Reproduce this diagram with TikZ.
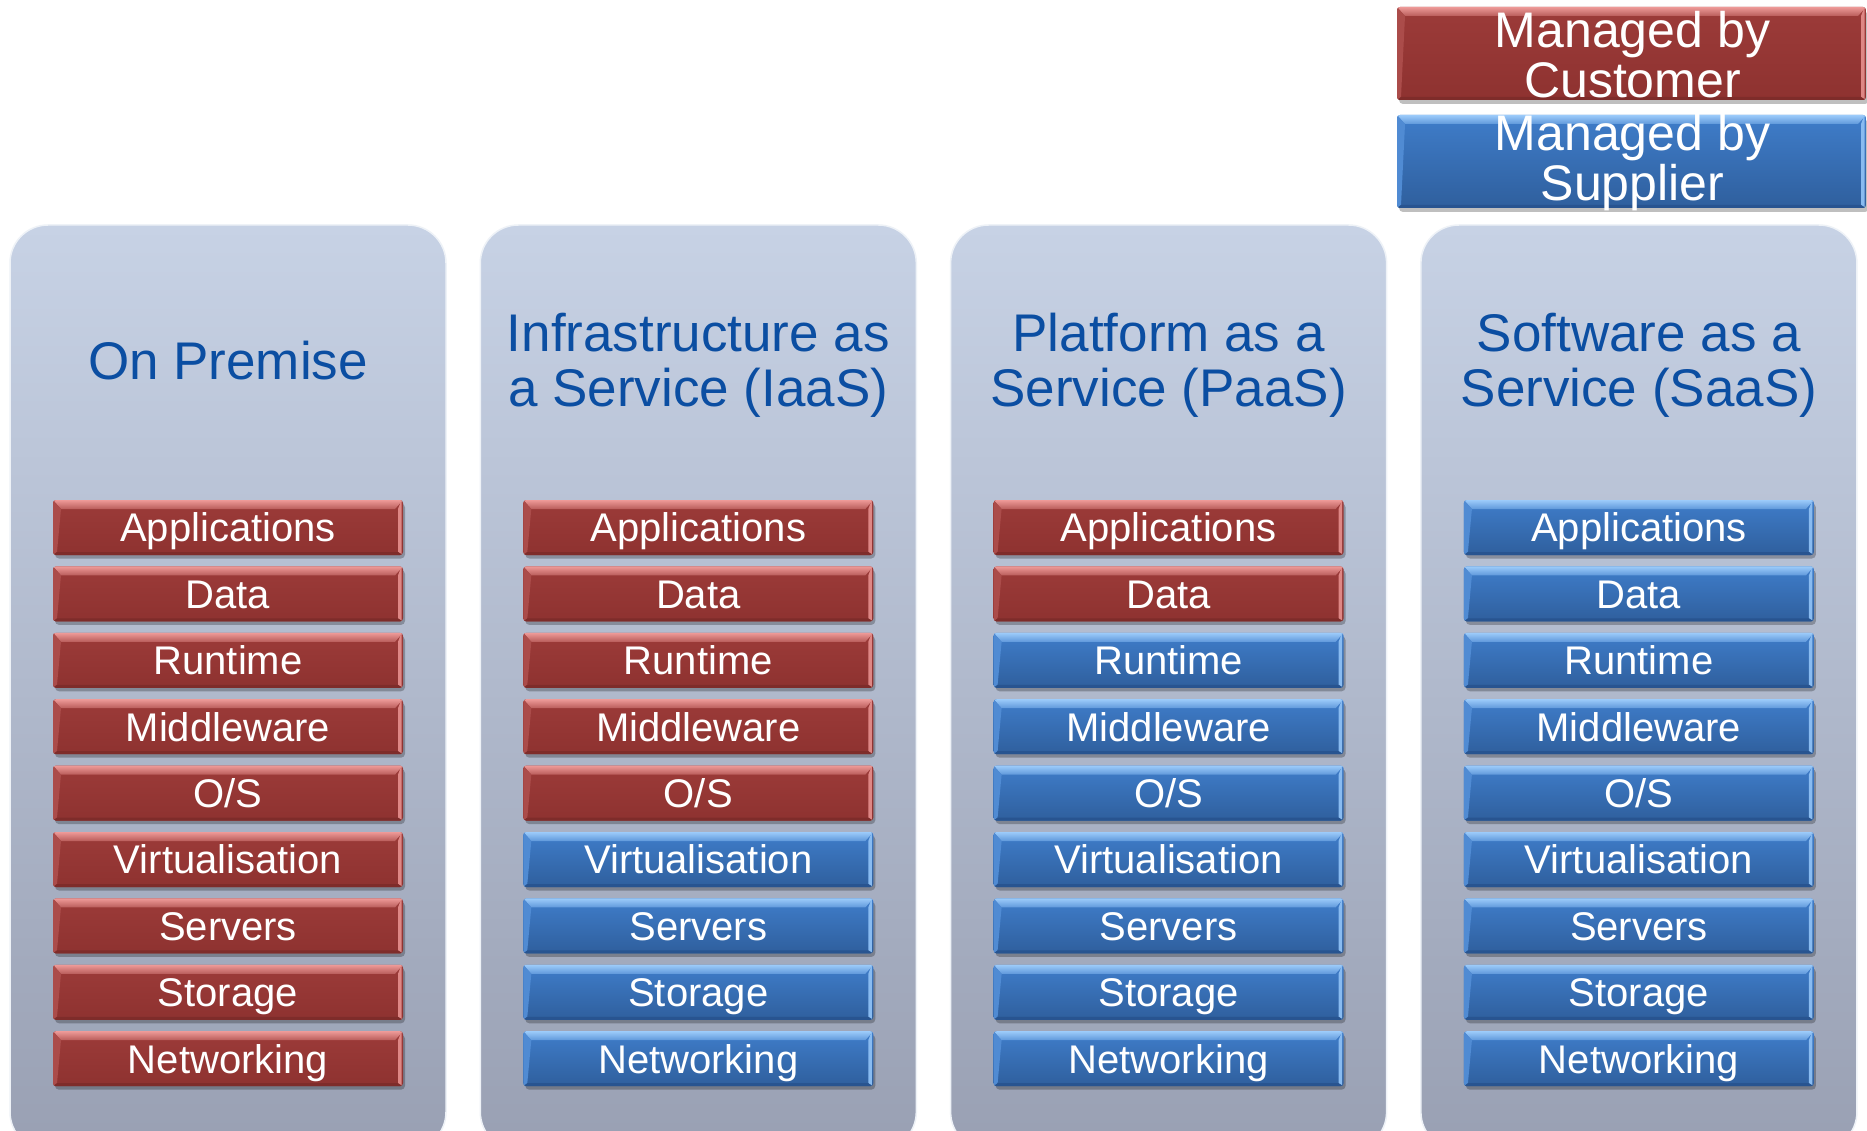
\documentclass[tikz,border=0pt]{standalone}
\usepackage{fontspec}
\setmainfont{Liberation Sans}
\usetikzlibrary{calc}
\definecolor{colTop}{HTML}{C7D2E5}
\definecolor{colMid}{HTML}{BAC5D8}
\definecolor{colBot}{HTML}{99A0B3}
\definecolor{titleBlue}{HTML}{0B4EA2}
\definecolor{redTop}{HTML}{9C3B39}
\definecolor{redBot}{HTML}{8E3230}
\definecolor{redHi}{HTML}{EE9A98}
\definecolor{redDk}{HTML}{7E2C2A}
\definecolor{bluTop}{HTML}{3F7DCA}
\definecolor{bluBot}{HTML}{2F5F9D}
\definecolor{bluHi}{HTML}{9CCBFA}
\definecolor{bluDk}{HTML}{285490}
\tikzset{
  glossy/.style n args={4}{top color=#1, bottom color=#2, rounded corners=3,
    path picture={
      \coordinate (pnw) at (path picture bounding box.north west);
      \coordinate (pne) at (path picture bounding box.north east);
      \coordinate (psw) at (path picture bounding box.south west);
      \coordinate (pse) at (path picture bounding box.south east);
      \shade[sharp corners, top color=#3, bottom color=#3!35!#1] (pnw) -- (pne) -- ($(pne)+(-8,-9)$) -- ($(pnw)+(8,-9)$) -- cycle;
      \fill[sharp corners, #3!80!#1] ($(pne)+(-1.5,0)$) -- ($(pse)+(-1.5,0)$) -- ($(pse)+(-5,3)$) -- ($(pne)+(-5,-9)$) -- cycle;
      \fill[sharp corners, #3!18!#1] (pnw) -- ($(pnw)+(8,-9)$) -- ($(psw)+(4,3)$) -- (psw) -- cycle;
      \fill[sharp corners, #4] (psw) -- ($(psw)+(4,3)$) -- ($(pse)+(-5,3)$) -- (pse) -- cycle;
    }},
  custbox/.style={glossy={redTop}{redBot}{redHi}{redDk}},
  suppbox/.style={glossy={bluTop}{bluBot}{bluHi}{bluDk}},
  layer/.style={minimum width=350, minimum height=55, inner sep=0pt, text=white,
    font=\fontsize{40}{40}\selectfont, text height=28.6pt, text depth=0pt},
  boxshadow/.style={fill=black, opacity=0.25, rounded corners=4},
  colpanel/.style={top color=colTop, middle color=colMid, bottom color=colBot,
    rounded corners=38, draw=white!70!colTop, line width=1.5},
  title/.style={text=titleBlue, align=center, font=\fontsize{53}{55}\selectfont},
  legbox/.style={minimum width=469, minimum height=93, inner sep=0pt},
  legtext/.style={text=white, align=center, font=\fontsize{50}{50}\selectfont},
}
\begin{document}
\begin{tikzpicture}[x=1pt,y=1pt]
\useasboundingbox (0,0) rectangle (1867,-1131);
\fill[white] (0,0) rectangle (1867,-1131);
\foreach \ci/\nred/\ty/\ttl in {0/9/-361/{On Premise},
    1/5/-365/{Infrastructure as\\a Service (IaaS)},
    2/2/-365/{Platform as a\\Service (PaaS)},
    3/0/-365/{Software as a\\Service (SaaS)}}{
  \pgfmathsetmacro\cx{228+470.3*\ci}
  \path[colpanel] (\cx-218,-225) rectangle (\cx+218,-1150);
  \node[title] (t\ci) at (\cx,\ty) {\ttl};
  \foreach \lab [count=\k from 0] in {Applications,Data,Runtime,Middleware,O/S,Virtualisation,Servers,Storage,Networking}{
    \pgfmathsetmacro\cy{-(527.5+66.4*\k)}
    \fill[boxshadow] (\cx-173,\cy-31) rectangle (\cx+177,\cy+24);
    \ifnum\k<\nred
      \node[layer,custbox] (b\ci-\k) at (\cx,\cy) {\lab};
    \else
      \node[layer,suppbox] (b\ci-\k) at (\cx,\cy) {\lab};
    \fi
  }
}
% legend
\fill[boxshadow] (1399,-104) rectangle (1869,-12);
\node[legbox,custbox] (legc) at (1631.5,-53.5) {};
\node[legtext] (legctext) at ($(legc.center)+(1,-1)$) {Managed by\\Customer};
\fill[boxshadow] (1399,-212) rectangle (1869,-120);
\node[legbox,suppbox] (legs) at (1631.5,-161.5) {};
\node[legtext] (legstext) at ($(legs.center)+(1,-1)$) {Managed by\\Supplier};
\end{tikzpicture}
\end{document}
